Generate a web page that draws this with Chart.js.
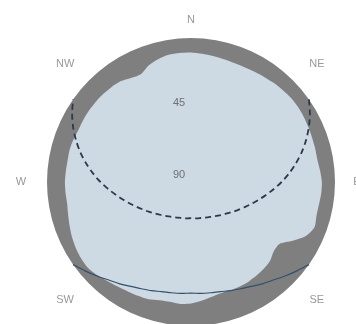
<!DOCTYPE html>
<html lang="en">
  <head>
    <meta charset="UTF-8" />
    <title>Horizon and sun path</title>
    <script src="https://cdn.jsdelivr.net/npm/chart.js"></script>
    <style>
      html, body { margin: 0; padding: 0; background: #fff; overflow: hidden; }
      #wrap { position: relative; width: 382px; height: 364px; }
    </style>
  </head>
  <body>
    <div id="wrap"><canvas id="sunChart"></canvas></div>

    <script>
      // azimuth in degrees, clockwise from north
      const azimuths = [
        0, 5, 10, 15, 20, 25, 30, 35, 40, 45, 50, 55,
        60, 65, 70, 75, 80, 85, 90, 95, 100, 105, 110, 115,
        120, 125, 130, 135, 140, 145, 150, 155, 160, 165, 170, 175,
        180, 185, 190, 195, 200, 205, 210, 215, 220, 225, 230, 235,
        240, 245, 250, 255, 260, 265, 270, 275, 280, 285, 290, 295,
        300, 305, 310, 315, 320, 325, 330, 335, 340, 345, 350, 355
      ];

      // horizon elevation (deg) per azimuth
      const horizon = [
        9, 9.5, 10, 10.5, 10.8, 10.8, 10.5, 10, 9.3, 8.8, 8.3, 8.3,
        8.6, 9, 9.4, 9.6, 9.8, 9, 8.2, 8.3, 8.8, 8.8, 7.8, 10.5,
        16.5, 22.5, 22.5, 20.2, 19.2, 18.6, 18.1, 18, 18.1, 18, 17, 15.5,
        14, 13.5, 14, 13.5, 12, 11.5, 11, 10.2, 9, 7.5, 6.2, 6.3,
        7, 8, 9.3, 10.5, 11.4, 11.3, 11.2, 11.5, 11.7, 11.5, 11.9, 12.5,
        12.3, 12.2, 12.2, 12.3, 12.6, 13.2, 15, 15.7, 12.5, 10.5, 9.3, 9
      ];

      // summer solstice sun altitude (dashed)
      const summerPath = [
        null, null, null, null, null, null, null, null, null, null, null, 0,
        4.2, 8.7, 13.5, 18.4, 23.5, 28.5, 33.4, 38.2, 42.6, 46.5, 49.9, 52.9,
        55.5, 57.7, 59.7, 61.4, 62.7, 64.0, 64.9, 65.6, 66.3, 66.7, 66.9, 67.2,
        67.4, 67.2, 66.9, 66.7, 66.3, 65.6, 64.9, 64.0, 62.7, 61.4, 59.7, 57.7,
        55.5, 52.9, 49.9, 46.5, 42.6, 38.2, 33.4, 28.5, 23.5, 18.4, 13.5, 8.7,
        4.2, 0, null, null, null, null, null, null, null, null, null, null
      ];

      // winter solstice sun altitude (solid)
      const winterPath = [
        null, null, null, null, null, null, null, null, null, null, null, null,
        null, null, null, null, null, null, null, null, null, null, null, null,
        null, 0, 3.6, 6.9, 10.0, 12.3, 14.7, 16.4, 17.7, 19.1, 19.7, 20.1,
        20.6, 20.1, 19.7, 19.1, 17.7, 16.4, 14.7, 12.3, 10.0, 6.9, 3.6, 0,
        null, null, null, null, null, null, null, null, null, null, null, null,
        null, null, null, null, null, null, null, null, null, null, null, null
      ];

      const skyEdge = azimuths.map(() => 0);
      const compassLabels = ['N', 'NE', 'E', 'SE', 'S', 'SW', 'W', 'NW'];
      const tickValues = [45, 90];

      // compass + altitude labels
      const labelPlugin = {
        id: 'sunLabels',
        afterDatasetsDraw(chart) {
          const r = chart.scales.r;
          const ctx = chart.ctx;
          ctx.save();
          ctx.font = '11px "Liberation Sans", Arial, sans-serif';
          ctx.textAlign = 'center';
          ctx.textBaseline = 'middle';
          ctx.fillStyle = '#999';
          compassLabels.forEach((txt, i) => {
            const a = i * Math.PI / 4;
            let ox = i % 2 ? 34 : 26;
            const oy = i % 2 ? 23 : 18;
            if (txt === 'E') ox = 22;
            ctx.fillText(txt,
              r.xCenter + (r.drawingArea + ox) * Math.sin(a),
              r.yCenter - (r.drawingArea + oy) * Math.cos(a));
          });
          ctx.fillStyle = '#707070';
          tickValues.forEach(v => {
            const d = r.getDistanceFromCenterForValue(v);
            ctx.fillText(String(v), r.xCenter - 12, r.yCenter - d - 7);
          });
          ctx.restore();
        }
      };

      new Chart(document.getElementById('sunChart'), {
        type: 'radar',
        data: {
          labels: azimuths,
          datasets: [
            {
              label: 'Winter',
              data: winterPath,
              fill: false,
              borderColor: '#34506a',
              borderWidth: 1.2,
              tension: 0.3,
              pointRadius: 0
            },
            {
              label: 'Summer',
              data: summerPath,
              fill: false,
              borderColor: '#2b3a4a',
              borderWidth: 1.8,
              borderDash: [6, 4],
              tension: 0.3,
              pointRadius: 0
            },
            {
              label: 'Horizon',
              data: horizon,
              fill: 'start',
              backgroundColor: '#cdd9e3',
              borderWidth: 0,
              tension: 0.25,
              pointRadius: 0
            },
            {
              label: 'Sky',
              data: skyEdge,
              fill: 'start',
              backgroundColor: '#7f7f7f',
              borderWidth: 0,
              pointRadius: 0
            }
          ]
        },
        options: {
          responsive: true,
          maintainAspectRatio: false,
          animation: false,
          layout: { padding: { left: 47, right: 47, top: 38, bottom: 38 } },
          plugins: {
            legend: { display: false },
            tooltip: { enabled: false }
          },
          scales: {
            r: {
              min: 0,
              max: 90,
              reverse: true,
              grid: { display: false, circular: true },
              angleLines: { display: false },
              ticks: { display: false },
              pointLabels: { display: false }
            }
          }
        },
        plugins: [labelPlugin]
      });
    </script>
  </body>
</html>
